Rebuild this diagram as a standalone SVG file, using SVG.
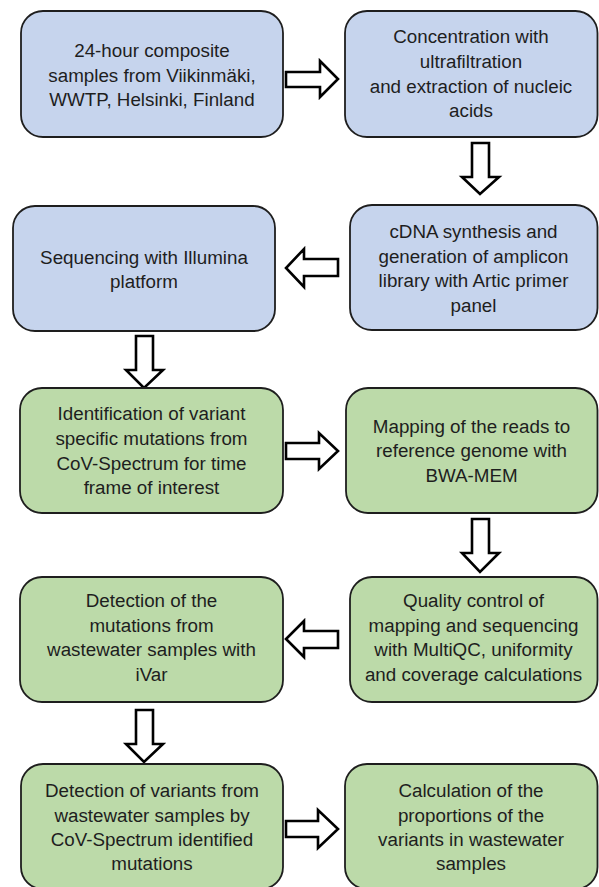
<svg xmlns="http://www.w3.org/2000/svg" width="599" height="887" viewBox="0 0 599 887">
<style>
  .box { stroke: #1e1e1e; stroke-width: 1.8; }
  .blue { fill: #c6d4ed; }
  .green { fill: #bcdaa9; }
  .arrow { fill: #ffffff; stroke: #000000; stroke-width: 2.6; stroke-linejoin: miter; }
  text { font-family: "Liberation Sans", Arial, sans-serif; font-size: 18.8px; fill: #1e1e1e; text-anchor: middle; }
</style>
<rect width="599" height="887" fill="#ffffff"/>
<g id="connectors">
  <polygon class="arrow" points="286,72 320,72 320,61 338,79 320,97 320,87 286,87"/>
  <polygon class="arrow" points="472,143 489,143 489,177 499,177 480,194 462,177 472,177"/>
  <polygon class="arrow" points="338,259 304,259 304,249 286,268 304,287 304,276 338,276"/>
  <polygon class="arrow" points="136,336 153,336 153,370 163,370 144,388 126,370 136,370"/>
  <polygon class="arrow" points="286,443 319,443 319,433 338,451 319,469 319,459 286,459"/>
  <polygon class="arrow" points="472,519 489,519 489,553 499,553 480,572 462,553 472,553"/>
  <polygon class="arrow" points="338,631 304,631 304,621 286,639 304,657 304,648 338,648"/>
  <polygon class="arrow" points="136,710 153,710 153,744 163,744 144,762 126,744 136,744"/>
  <polygon class="arrow" points="286,821 318,821 318,810 338,829 318,848 318,837 286,837"/>
</g>
<g id="n1">
  <rect class="box blue" x="21" y="11" width="262" height="126" rx="22"/>
  <text x="152" y="57">24-hour composite</text>
  <text x="152" y="81.5">samples from Viikinmäki,</text>
  <text x="152" y="106">WWTP, Helsinki, Finland</text>
</g>
<g id="n2">
  <rect class="box blue" x="345" y="11" width="252.5" height="126" rx="22"/>
  <text x="471" y="43">Concentration with</text>
  <text x="471" y="68">ultrafiltration</text>
  <text x="471" y="93">and extraction of nucleic</text>
  <text x="471" y="117">acids</text>
</g>
<g id="n3">
  <rect class="box blue" x="13" y="206" width="262" height="125" rx="22"/>
  <text x="144" y="264">Sequencing with Illumina</text>
  <text x="144" y="288">platform</text>
</g>
<g id="n4">
  <rect class="box blue" x="350" y="205" width="247.5" height="125" rx="22"/>
  <text x="473.5" y="238">cDNA synthesis and</text>
  <text x="473.5" y="262.5">generation of amplicon</text>
  <text x="473.5" y="287">library with Artic primer</text>
  <text x="473.5" y="311.5">panel</text>
</g>
<g id="n5">
  <rect class="box green" x="20" y="388" width="263" height="125" rx="22"/>
  <text x="151.5" y="420">Identification of variant</text>
  <text x="151.5" y="445">specific mutations from</text>
  <text x="151.5" y="470">CoV-Spectrum for time</text>
  <text x="151.5" y="494">frame of interest</text>
</g>
<g id="n6">
  <rect class="box green" x="346" y="388" width="251.5" height="125" rx="22"/>
  <text x="471.5" y="433">Mapping of the reads to</text>
  <text x="471.5" y="457">reference genome with</text>
  <text x="471.5" y="482">BWA-MEM</text>
</g>
<g id="n7">
  <rect class="box green" x="20" y="577" width="263" height="125" rx="22"/>
  <text x="151.5" y="607">Detection of the</text>
  <text x="151.5" y="631.5">mutations from</text>
  <text x="151.5" y="656">wastewater samples with</text>
  <text x="151.5" y="680.5">iVar</text>
</g>
<g id="n8">
  <rect class="box green" x="350" y="577" width="247.5" height="125" rx="22"/>
  <text x="473.5" y="607">Quality control of</text>
  <text x="473.5" y="631.5">mapping and sequencing</text>
  <text x="473.5" y="656">with MultiQC, uniformity</text>
  <text x="473.5" y="680.5">and coverage calculations</text>
</g>
<g id="n9">
  <rect class="box green" x="21" y="764" width="262" height="125" rx="22"/>
  <text x="152" y="797">Detection of variants from</text>
  <text x="152" y="821.5">wastewater samples by</text>
  <text x="152" y="846">CoV-Spectrum identified</text>
  <text x="152" y="870">mutations</text>
</g>
<g id="n10">
  <rect class="box green" x="345" y="764" width="252.5" height="125" rx="22"/>
  <text x="471" y="797">Calculation of the</text>
  <text x="471" y="821.5">proportions of the</text>
  <text x="471" y="846">variants in wastewater</text>
  <text x="471" y="870">samples</text>
</g>
</svg>
